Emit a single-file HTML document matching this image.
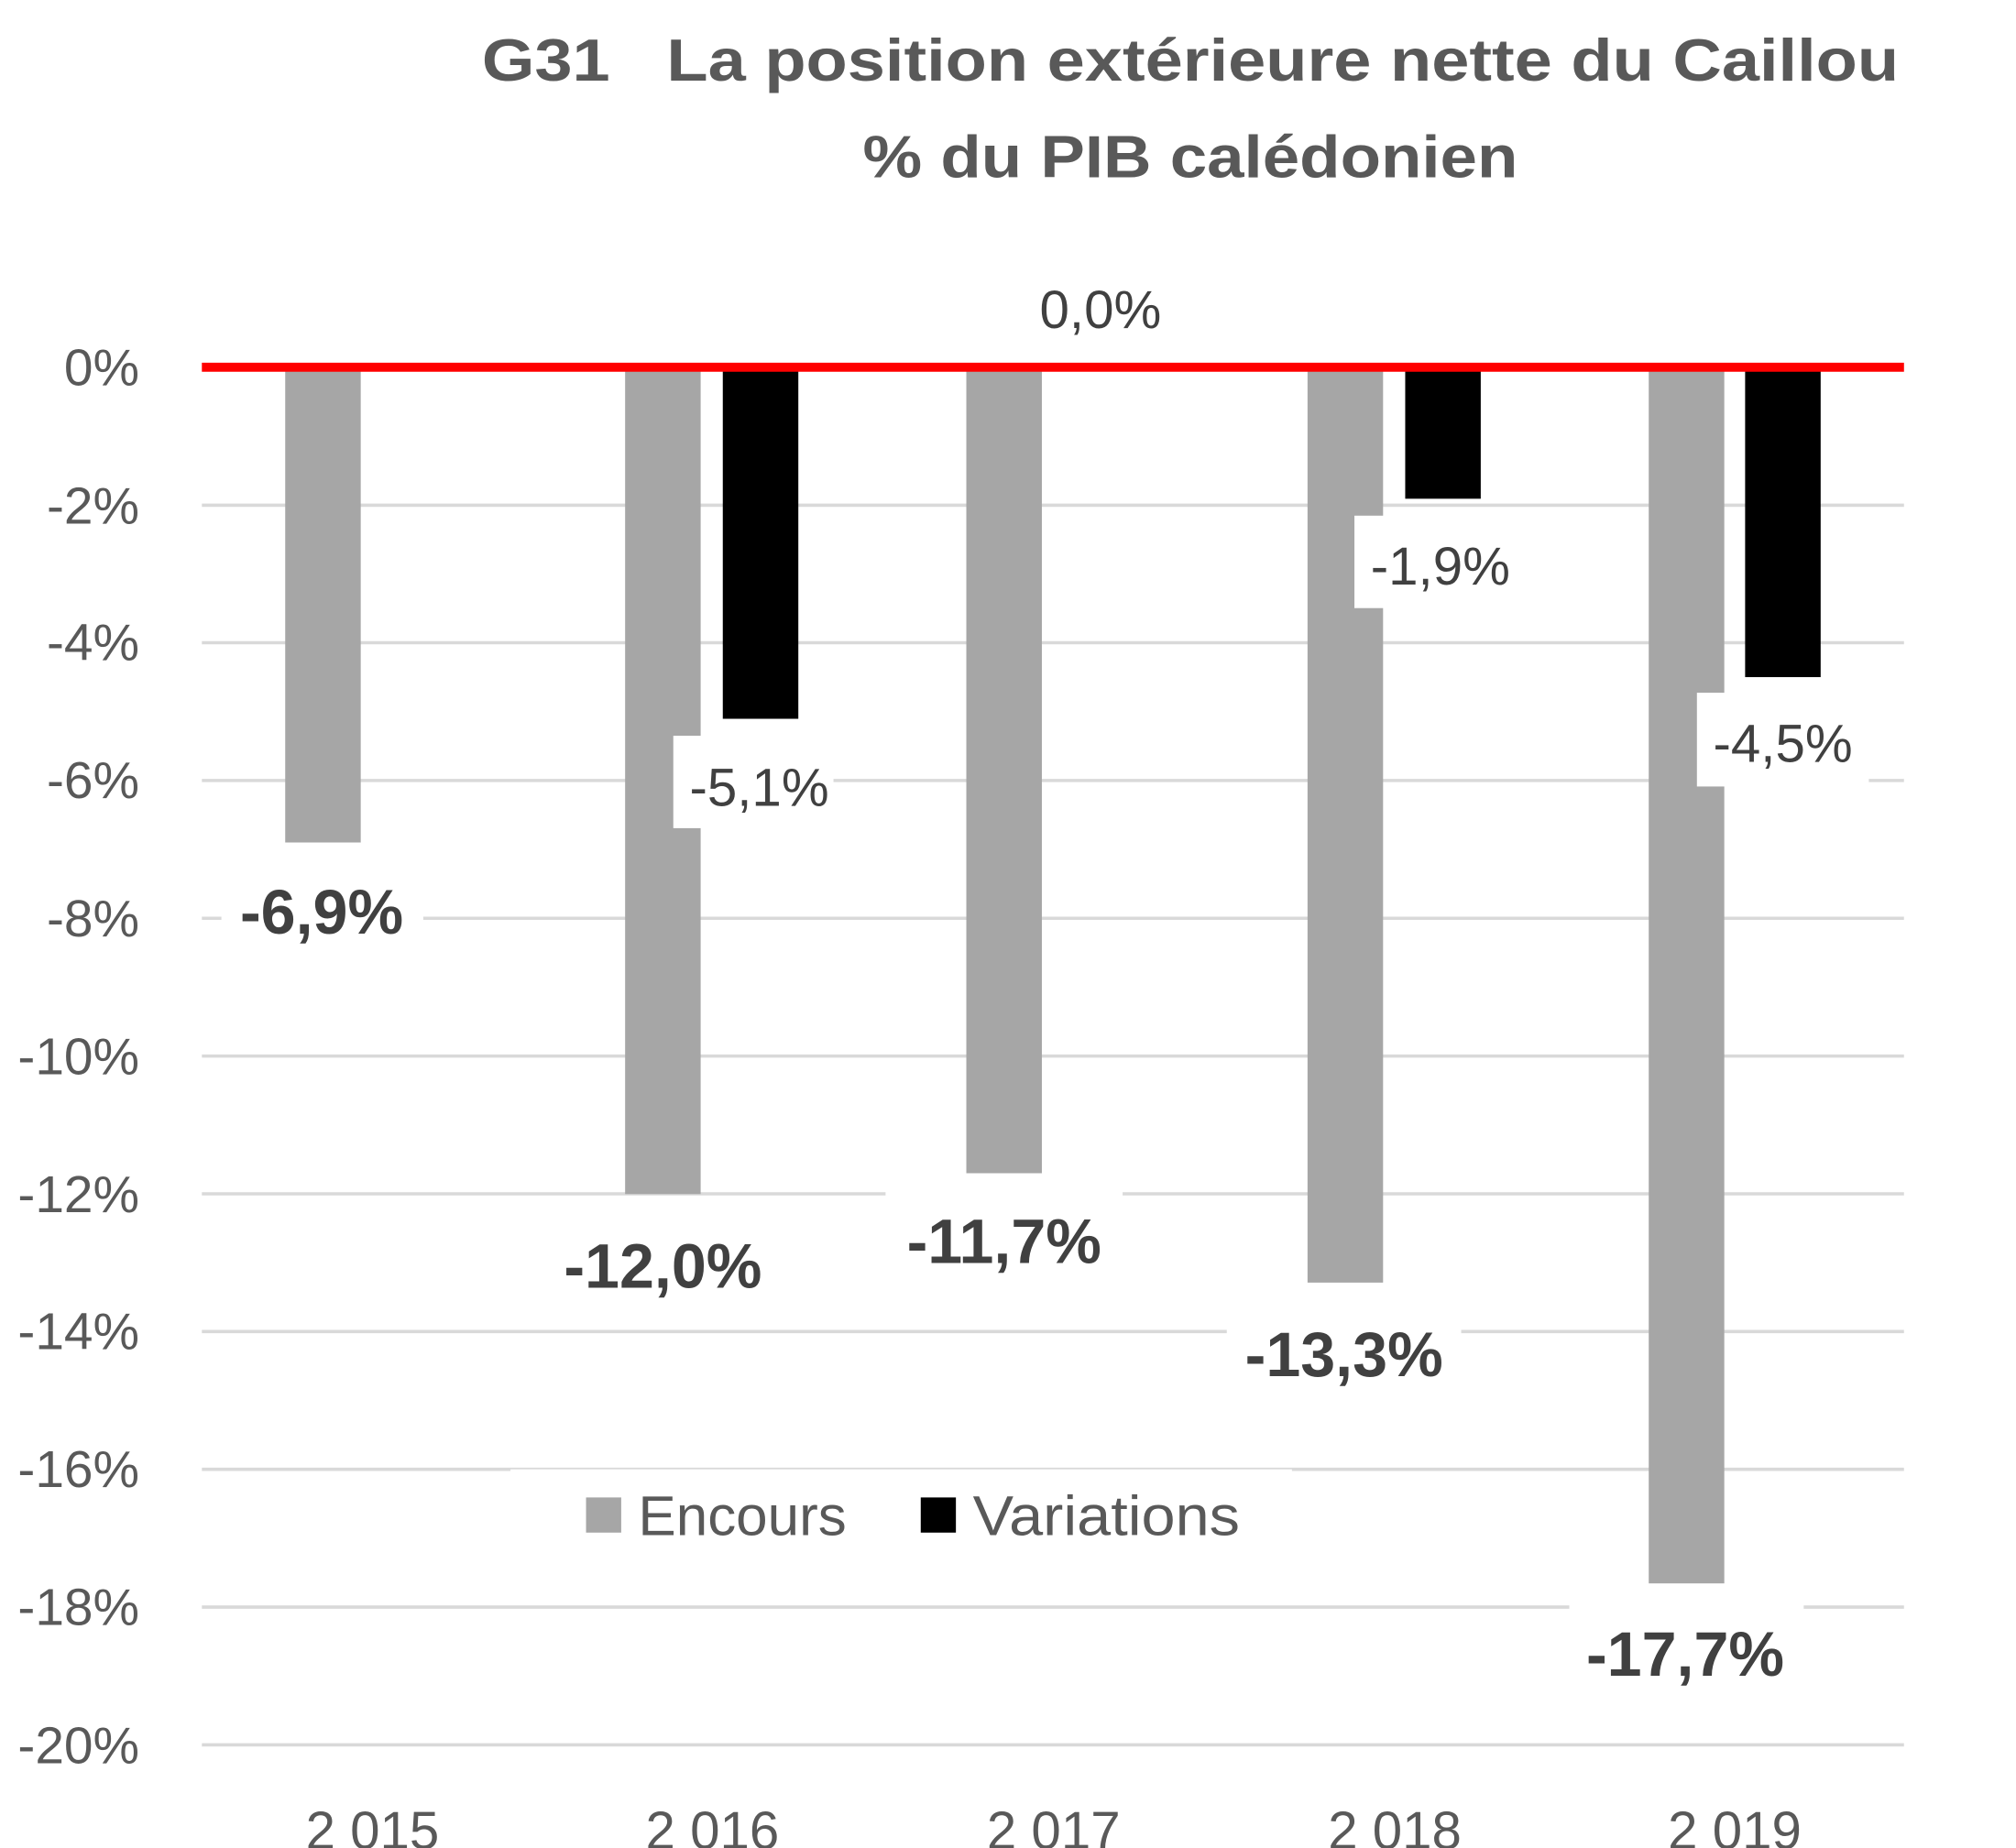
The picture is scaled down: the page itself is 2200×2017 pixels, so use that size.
<!DOCTYPE html>
<html><head><meta charset="utf-8"><style>html,body{margin:0;padding:0;background:#fff}svg{display:block}</style></head>
<body>
<svg width="2200" height="2017" viewBox="0 0 1548 1419.2" xmlns="http://www.w3.org/2000/svg" font-family="'Liberation Sans', sans-serif">
<rect width="1548" height="1420" fill="#fff"/>
<g fill="#595959" font-weight="bold" font-size="46" text-anchor="middle">
<text x="914" y="62" xml:space="preserve" textLength="1088" lengthAdjust="spacingAndGlyphs">G31   La position extérieure nette du Caillou</text>
<text x="914" y="136" textLength="503" lengthAdjust="spacingAndGlyphs">% du PIB calédonien</text>
</g>
<g stroke="#d9d9d9" stroke-width="2.5">
<line x1="155" x2="1462" y1="388" y2="388"/>
<line x1="155" x2="1462" y1="493.6" y2="493.6"/>
<line x1="155" x2="1462" y1="599.4" y2="599.4"/>
<line x1="155" x2="1462" y1="705.2" y2="705.2"/>
<line x1="155" x2="1462" y1="811" y2="811"/>
<line x1="155" x2="1462" y1="916.8" y2="916.8"/>
<line x1="155" x2="1462" y1="1022.6" y2="1022.6"/>
<line x1="155" x2="1462" y1="1128.4" y2="1128.4"/>
<line x1="155" x2="1462" y1="1234.2" y2="1234.2"/>
<line x1="155" x2="1462" y1="1340" y2="1340"/>
</g>
<g fill="#595959" font-size="40" text-anchor="end">
<text x="107" y="296">0%</text>
<text x="107" y="402">-2%</text>
<text x="107" y="507">-4%</text>
<text x="107" y="613">-6%</text>
<text x="107" y="719">-8%</text>
<text x="107" y="825">-10%</text>
<text x="107" y="931">-12%</text>
<text x="107" y="1036">-14%</text>
<text x="107" y="1142">-16%</text>
<text x="107" y="1248">-18%</text>
<text x="107" y="1354">-20%</text>
</g>
<g fill="#a6a6a6">
<rect x="219" y="282" width="58" height="365"/>
<rect x="480" y="282" width="58" height="635"/>
<rect x="742" y="282" width="58" height="619"/>
<rect x="1004" y="282" width="58" height="703"/>
<rect x="1266" y="282" width="58" height="934"/>
</g>
<g fill="#000">
<rect x="555" y="282" width="58" height="270"/>
<rect x="1079" y="282" width="58" height="101"/>
<rect x="1340" y="282" width="58" height="238"/>
</g>
<line x1="155" x2="1462" y1="282" y2="282" stroke="#ff0000" stroke-width="7"/>
<g fill="#fff">
<rect x="170" y="665" width="155" height="72"/>
<rect x="392" y="935" width="235" height="72"/>
<rect x="680" y="915" width="182" height="72"/>
<rect x="942" y="1002" width="180" height="72"/>
<rect x="1205" y="1232" width="180" height="72"/>
<rect x="517" y="565" width="123" height="71"/>
<rect x="1040" y="396" width="130" height="71"/>
<rect x="1303" y="532" width="132" height="72"/>
<rect x="392" y="1128.4" width="600" height="70"/>
</g>
<g fill="#404040" font-size="48" font-weight="bold" text-anchor="middle">
<text x="247" y="717">-6,9%</text>
<text x="509" y="989">-12,0%</text>
<text x="771" y="970">-11,7%</text>
<text x="1032" y="1057">-13,3%</text>
<text x="1294" y="1287">-17,7%</text>
</g>
<g fill="#404040" font-size="41" text-anchor="middle">
<text x="583" y="619">-5,1%</text>
<text x="1106" y="449">-1,9%</text>
<text x="1369" y="585">-4,5%</text>
<text x="845" y="252">0,0%</text>
</g>
<g fill="#595959" font-size="41" text-anchor="middle">
<text x="286" y="1420">2 015</text>
<text x="547" y="1420">2 016</text>
<text x="809" y="1420">2 017</text>
<text x="1071" y="1420">2 018</text>
<text x="1332" y="1420">2 019</text>
</g>
<rect x="450" y="1150" width="27" height="27" fill="#a6a6a6"/>
<rect x="707" y="1150" width="27" height="27" fill="#000"/>
<g fill="#595959" font-size="43">
<text x="490" y="1179" textLength="160" lengthAdjust="spacingAndGlyphs">Encours</text>
<text x="747" y="1179" textLength="205" lengthAdjust="spacingAndGlyphs">Variations</text>
</g>
</svg>
</body></html>
